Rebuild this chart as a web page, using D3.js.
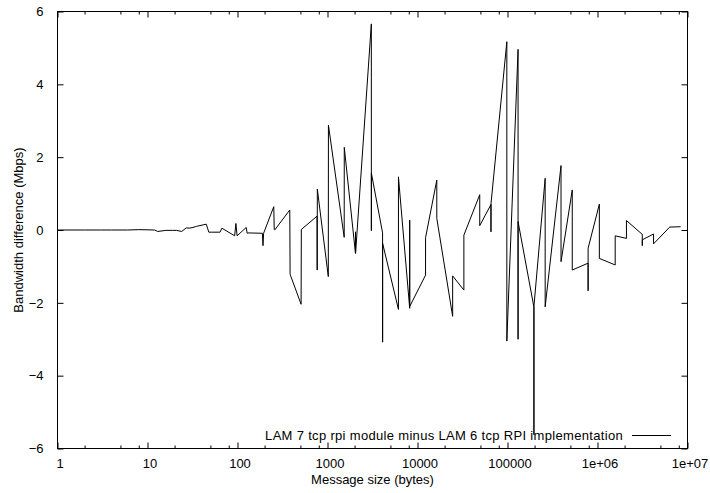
<!DOCTYPE html>
<html lang="en">
<head>
<meta charset="utf-8">
<title>LAM 7 vs LAM 6 bandwidth difference</title>
<script src="https://d3js.org/d3.v7.min.js"></script>
<style>
  body { margin: 0; background: #fff; }
  svg text { font-family: "Liberation Sans", Arial, Helvetica, sans-serif; fill: #000; }
</style>
</head>
<body>
<script>
// message sizes (bytes), NetPIPE style n-3, n, n+3
var sizes = [1, 2, 3, 4, 6, 8, 12, 13, 16, 19, 21, 24, 27, 29, 32, 35, 45, 48, 51, 61, 64, 67,
  93, 96, 99, 125, 128, 131, 189, 192, 195, 253, 256, 259, 381, 384, 387, 509, 512, 515,
  765, 768, 771, 1021, 1024, 1027, 1533, 1536, 1539, 2045, 2048, 2051, 3069, 3072, 3075,
  4093, 4096, 4099, 6141, 6144, 6147, 8189, 8192, 8195, 12285, 12288, 12291,
  16381, 16384, 16387, 24573, 24576, 24579, 32765, 32768, 32771, 49149, 49152, 49155,
  65533, 65536, 65539, 98301, 98304, 98307, 131069, 131072, 131075, 196605, 196608, 196611,
  262141, 262144, 262147, 393213, 393216, 393219, 524285, 524288, 524291,
  786429, 786432, 786435, 1048573, 1048576, 1048579, 1572861, 1572864, 1572867,
  2097149, 2097152, 2097155, 3145725, 3145728, 3145731, 4194301, 4194304, 4194307,
  6291453, 6291456, 6291459, 8388605, 8388608, 8388611];

// bandwidth difference (Mbps)
var diffs = [0.00, 0.00, 0.00, 0.00, 0.00, 0.01, 0.00, -0.04, -0.01, -0.01, -0.01, -0.04, 0.06, 0.05, 0.07, 0.10, 0.16, -0.06, -0.06, -0.06, -0.06, 0.05,
  -0.16, 0.18, -0.16, 0.07, -0.09, -0.08, -0.09, -0.43, -0.09, 0.64, 0.01, 0.00, 0.55, -1.20, -1.24, -2.04, 0.02, 0.02,
  0.38, -1.10, 1.12, -1.28, 2.88, 2.86, -0.20, 2.27, 2.25, -0.64, -0.05, -0.64, 5.66, -0.02, 1.56,
  -0.08, -3.08, -0.37, -2.18, 1.46, 1.45, -2.15, 0.27, -2.10, -1.24, -0.21, -0.21,
  1.37, 0.32, 0.32, -2.37, -1.26, -1.26, -1.65, -0.14, -0.14, 0.97, 0.12, 0.12,
  0.70, -0.05, 0.72, 5.17, -3.05, -3.05, 4.96, -3.00, 0.23, -2.12, -5.62, -2.10,
  1.42, -2.11, -2.11, 1.77, -0.87, -0.87, 1.10, -1.10, -1.10,
  -0.91, -1.67, -0.50, 0.71, -0.78, -0.78, -0.96, -0.16, -0.16,
  -0.23, 0.26, 0.26, -0.12, -0.43, -0.27, -0.11, -0.38, -0.38,
  0.07, 0.08, 0.08, 0.09, 0.09, 0.09];

var xMajor = [1, 10, 100, 1000, 10000, 100000, 1000000, 10000000];
var xLabels = ["1", "10", "100", "1000", "10000", "100000", "1e+06", "1e+07"];
var yTicks = [-6, -4, -2, 0, 2, 4, 6];
var seriesName = "LAM 7 tcp rpi module minus LAM 6 tcp RPI implementation";

var width = 710, height = 493;
var plotL = 57.5, plotR = 687.5, plotT = 11.5, plotB = 448.5;

var x = d3.scaleLog().domain([1, 1e7]).range([plotL, plotR]);
var y = d3.scaleLinear().domain([-6, 6]).range([plotB, plotT]);

var xMinor = [];
xMajor.slice(0, -1).forEach(function (d) {
  [2, 5, 8].forEach(function (m) { xMinor.push(d * m); });
});

var svg = d3.select("body").append("svg")
  .attr("width", width)
  .attr("height", height);

svg.append("rect").attr("width", width).attr("height", height).attr("fill", "#fff");

var fs = "13px";

// bottom axis with labels
var xAxis = svg.append("g")
  .attr("transform", "translate(0," + plotB + ")")
  .call(d3.axisBottom(x).tickValues(xMajor).tickSizeInner(-6).tickSizeOuter(0).tickPadding(10)
    .tickFormat(function (d, i) { return xLabels[i]; }));
xAxis.select(".domain").remove();
xAxis.selectAll("text").attr("font-size", fs).attr("dx", 2).attr("font-family", null);

var xMinAxis = svg.append("g")
  .attr("transform", "translate(0," + plotB + ")")
  .call(d3.axisBottom(x).tickValues(xMinor).tickSizeInner(-3).tickSizeOuter(0).tickFormat(""));
xMinAxis.select(".domain").remove();

// mirrored top ticks
var xTop = svg.append("g")
  .attr("transform", "translate(0," + plotT + ")")
  .call(d3.axisTop(x).tickValues(xMajor).tickSizeInner(-6).tickSizeOuter(0).tickFormat(""));
xTop.select(".domain").remove();
var xTopMin = svg.append("g")
  .attr("transform", "translate(0," + plotT + ")")
  .call(d3.axisTop(x).tickValues(xMinor).tickSizeInner(-3).tickSizeOuter(0).tickFormat(""));
xTopMin.select(".domain").remove();

// y axes
var yAxis = svg.append("g")
  .attr("transform", "translate(" + plotL + ",0)")
  .call(d3.axisLeft(y).tickValues(yTicks).tickSizeInner(-6).tickSizeOuter(0).tickPadding(14)
    .tickFormat(d3.format("d")));
yAxis.select(".domain").remove();
yAxis.selectAll("text").attr("font-size", fs).attr("font-family", null);

var yRight = svg.append("g")
  .attr("transform", "translate(" + plotR + ",0)")
  .call(d3.axisRight(y).tickValues(yTicks).tickSizeInner(-6).tickSizeOuter(0).tickFormat(""));
yRight.select(".domain").remove();

svg.selectAll(".tick line").attr("stroke", "#000");

// frame
svg.append("rect")
  .attr("x", plotL).attr("y", plotT)
  .attr("width", plotR - plotL).attr("height", plotB - plotT)
  .attr("fill", "none").attr("stroke", "#000").attr("stroke-width", 1);

// data line
var pts = sizes.map(function (s, i) { return [s, diffs[i]]; });
var line = d3.line()
  .x(function (d) { return x(d[0]); })
  .y(function (d) { return y(d[1]); });

svg.append("path")
  .datum(pts)
  .attr("fill", "none")
  .attr("stroke", "#000")
  .attr("stroke-width", 1)
  .attr("d", line);

// legend
svg.append("text")
  .attr("x", 623).attr("y", 435)
  .attr("dy", "0.35em")
  .attr("text-anchor", "end")
  .attr("font-size", fs)
  .attr("letter-spacing", "0.32px")
  .text(seriesName);
svg.append("line")
  .attr("x1", 632).attr("x2", 671)
  .attr("y1", 435.5).attr("y2", 435.5)
  .attr("stroke", "#000");

// axis titles
svg.append("text")
  .attr("x", (plotL + plotR) / 2).attr("y", 479)
  .attr("dy", "0.35em")
  .attr("text-anchor", "middle")
  .attr("font-size", fs)
  .text("Message size (bytes)");

svg.append("text")
  .attr("transform", "translate(18," + (plotT + plotB) / 2 + ") rotate(-90)")
  .attr("dy", "0.35em")
  .attr("text-anchor", "middle")
  .attr("font-size", fs)
  .text("Bandwidth difference (Mbps)");
</script>
</body>
</html>
